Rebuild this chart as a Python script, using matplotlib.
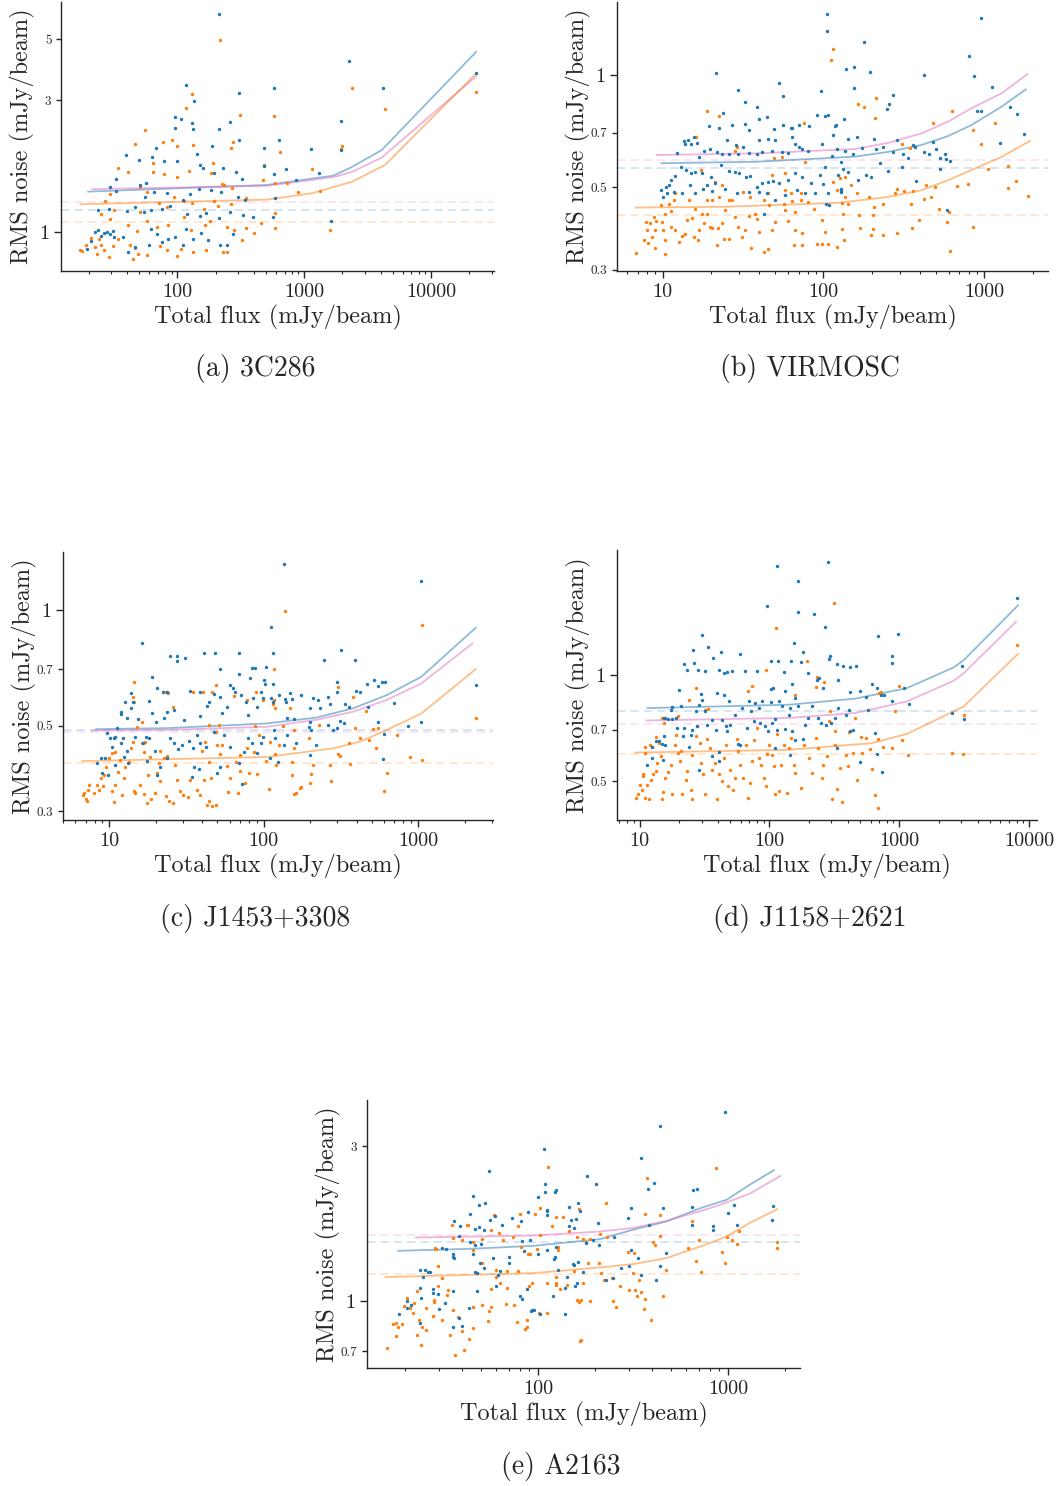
import matplotlib
matplotlib.use("Agg")
import matplotlib.pyplot as plt
from matplotlib.ticker import LogLocator, NullFormatter, NullLocator

plt.rcParams["font.family"] = "cmr10"
plt.rcParams["mathtext.fontset"] = "cm"
plt.rcParams["axes.unicode_minus"] = False
plt.rcParams["axes.formatter.use_mathtext"] = True

BLUE, ORANGE, PINK = "#1f77b4", "#ff7f0e", "#e377c2"
INK = "#262626"

# ---------------- (a) 3C286 ----------------
A_BLUE = [(213, 6.15), (117, 3.40), (574, 3.33), (306, 3.20), (2250, 4.17), (4160, 3.33), (22600, 3.78),
          (95, 2.60), (106, 2.56), (96, 2.39), (131, 2.48), (134, 2.36), (136, 2.97), (213, 2.36), (262, 2.50),
          (189, 2.05), (307, 2.15), (630, 2.15), (478, 2.01), (1940, 2.52), (1940, 1.98), (1130, 1.99),
          (68, 2.01), (63, 1.87), (39.6, 1.90), (49.8, 1.82), (79, 1.80), (100, 1.80), (144, 1.91),
          (150, 1.75), (158, 1.70), (193, 1.63), (230, 1.70), (290, 1.65), (325, 1.56), (478, 1.74),
          (574, 1.62), (717, 1.69), (866, 1.54), (1300, 1.64), (29.6, 1.46), (32.6, 1.55), (33, 1.41),
          (56.7, 1.51), (51, 1.48), (55.4, 1.34), (66, 1.40), (83, 1.38), (110, 1.31), (126, 1.37),
          (148, 1.43), (184, 1.42), (220, 1.40), (298, 1.34), (342, 1.31), (585, 1.33), (23.7, 1.20),
          (28.7, 1.21), (40, 1.19), (46.6, 1.23), (62, 1.20), (75, 1.21), (88, 1.24), (119, 1.165),
          (150, 1.14), (169, 1.175), (213, 1.12), (258, 1.18), (329, 1.15), (392, 1.13), (567, 1.13),
          (1620, 1.10), (19.5, 0.87), (20.7, 0.93), (22.6, 1.0), (24.8, 0.97), (26.3, 0.99), (29.6, 0.986),
          (31, 1.01), (31.6, 0.955), (37.3, 0.96), (40.9, 0.846), (46, 0.88), (62.5, 1.025), (69, 0.98),
          (75.6, 0.92), (84, 0.94), (96, 0.96), (110, 0.895), (117, 1.025), (134, 0.946), (153, 0.995),
          (174, 0.933), (218, 0.90), (246, 0.90), (273, 0.986), (54.2, 1.18), (59.7, 0.895), (23.5, 1.015),
          (27.8, 1.0)]
A_ORANGE = [(218, 4.98), (131, 3.15), (117, 2.82), (313, 2.65), (574, 2.63), (2400, 3.33), (4345, 2.80),
            (22600, 3.22), (56, 2.35), (90, 2.16), (76.5, 2.12), (99, 2.05), (134, 2.06), (274, 2.12),
            (266, 2.01), (640, 1.95), (1980, 2.05), (1940, 2.0), (46, 2.08), (33.8, 1.70), (41, 1.65),
            (64.4, 1.78), (64.8, 1.65), (79, 1.62), (99, 1.58), (124, 1.66), (190, 1.78), (185, 1.64),
            (224, 1.49), (232, 1.48), (270, 1.44), (482, 1.75), (470, 1.54), (590, 1.50), (731, 1.51),
            (1148, 1.69), (898, 1.39), (1336, 1.41), (29.3, 1.37), (27, 1.30), (31.6, 1.20), (51, 1.45),
            (58, 1.39), (71, 1.27), (83, 1.23), (94, 1.34), (112, 1.30), (131, 1.27), (162, 1.21),
            (193, 1.30), (208, 1.24), (266, 1.26), (347, 1.33), (585, 1.17), (24.8, 1.165), (29.6, 1.11),
            (40.9, 1.06), (48.4, 1.01), (51, 1.18), (57.7, 1.10), (69, 1.04), (85, 1.06), (112, 1.13),
            (128, 1.015), (165, 1.06), (181, 1.10), (246, 1.04), (345, 1.035), (399, 0.995), (458, 1.08),
            (585, 1.03), (1600, 1.015), (17.2, 0.858), (17.7, 0.853), (18.9, 0.895), (21, 0.954),
            (22.5, 0.883), (23.2, 0.835), (24.1, 0.94), (24.8, 0.895), (26.3, 0.858), (28.7, 0.81),
            (31, 0.887), (34, 0.94), (42.5, 0.895), (44.3, 0.80), (46.6, 0.877), (49.3, 0.835),
            (57.7, 0.823), (72.6, 0.887), (83, 0.863), (99, 0.816), (106, 0.868), (134, 0.846),
            (169, 0.863), (228, 0.846), (246, 0.846), (323, 0.933), (278, 1.015)]
A_FIT_BLUE = [(19.8, 1.40), (508, 1.48), (1702, 1.60), (2374, 1.72), (4080, 1.98), (22600, 4.49)]
A_FIT_PINK = [(21.3, 1.43), (508, 1.47), (1702, 1.58), (2374, 1.65), (4080, 1.86), (22600, 3.66)]
A_FIT_ORANGE = [(17.2, 1.26), (508, 1.31), (1148, 1.38), (2374, 1.52), (4345, 1.75), (22600, 3.75)]
A_LEVELS = [1.285, 1.205, 1.084]  # pink, blue, orange dashed

# ---------------- (b) VIRMOSC ----------------
B_BLUE = [(106, 1.46), (105, 1.315), (950, 1.42), (180, 1.224), (800, 1.127), (138, 1.036), (155, 1.049),
          (194, 1.021), (21.6, 1.012), (52.9, 0.952), (420, 0.998), (865, 0.994), (29.4, 0.911), (96.3, 0.908),
          (155, 0.921), (56.4, 0.876), (270, 0.884), (1115, 0.927), (32.4, 0.845), (38.5, 0.82), (257, 0.836),
          (248, 0.809), (1450, 0.819), (1600, 0.784), (906, 0.80), (102, 0.778), (107, 0.78), (91, 0.78),
          (44.8, 0.77), (40, 0.76), (23.9, 0.79), (19.5, 0.731), (22.3, 0.72), (26.9, 0.734), (32.4, 0.737),
          (34.5, 0.714), (49.6, 0.717), (56.4, 0.734), (63.3, 0.72), (64, 0.72), (70.7, 0.734), (81.9, 0.73),
          (120, 0.734), (135, 0.76), (115, 0.69), (118, 0.73), (1260, 0.658), (1780, 0.693), (960, 0.80),
          (481, 0.662), (285, 0.669), (360, 0.651), (205, 0.675), (162, 0.68), (143, 0.675), (97.6, 0.653),
          (70.7, 0.642), (63.7, 0.683), (66.7, 0.653), (40, 0.669), (50, 0.669), (45.5, 0.673), (31.8, 0.642),
          (28.6, 0.65), (25.2, 0.669), (21.9, 0.622), (19.8, 0.632), (16.3, 0.658), (15.6, 0.683),
          (14.4, 0.669), (15, 0.653), (13.5, 0.666), (13.7, 0.653), (12.3, 0.618), (16.8, 0.603),
          (18.1, 0.625), (23.4, 0.614), (25.8, 0.614), (29.6, 0.614), (34.5, 0.616), (38.5, 0.614),
          (41.4, 0.622), (47.8, 0.627), (55.3, 0.622), (60.6, 0.618), (73.3, 0.635), (80.7, 0.627),
          (113, 0.606), (121, 0.632), (136, 0.627), (128, 0.586), (133, 0.56), (142, 0.55), (152, 0.614),
          (175, 0.638), (213, 0.635), (236, 0.641), (272, 0.622), (312, 0.614), (337, 0.598), (371, 0.642),
          (420, 0.622), (455, 0.614), (500, 0.635), (530, 0.598), (567, 0.614), (580, 0.594), (610, 0.589),
          (530, 0.56), (253, 0.553), (307, 0.567), (224, 0.579), (185, 0.539), (198, 0.533), (165, 0.522),
          (124, 0.539), (129, 0.487), (129, 0.496), (103, 0.567), (95, 0.539), (100, 0.51), (84, 0.514),
          (73.5, 0.533), (66.7, 0.545), (60.6, 0.522), (53, 0.514), (48.8, 0.52), (45, 0.517), (41.4, 0.514),
          (38.5, 0.50), (35, 0.536), (33, 0.533), (29.9, 0.545), (28.3, 0.55), (25.8, 0.553), (22.9, 0.573),
          (21.2, 0.514), (20, 0.533), (18.9, 0.506), (17.5, 0.545), (16, 0.55), (15.1, 0.547), (14.8, 0.506),
          (14, 0.556), (13, 0.567), (12, 0.536), (11.2, 0.522), (10.9, 0.508), (10.5, 0.50), (9.8, 0.491),
          (10.1, 0.471), (10.7, 0.483), (11.7, 0.486), (13.2, 0.481), (16, 0.483), (17.9, 0.496),
          (20.2, 0.489), (24.5, 0.496), (29, 0.483), (34.2, 0.486), (39.5, 0.486), (44.6, 0.481),
          (50.1, 0.462), (57.9, 0.476), (68.3, 0.493), (76.8, 0.481), (88.7, 0.483), (104, 0.452),
          (109, 0.448), (107, 0.483), (129, 0.485), (42.4, 0.425), (374, 0.52), (590, 0.434)]
B_ORANGE = [(114, 1.174), (111, 1.097), (213, 0.866), (18.9, 0.802), (22.5, 0.776), (163, 0.834), (180, 0.822),
            (209, 0.768), (76, 0.745), (630, 0.80), (480, 0.745), (1170, 0.745), (850, 0.713), (960, 0.653),
            (307, 0.653), (345, 0.638), (1409, 0.571), (1059, 0.56), (680, 0.504), (795, 0.51), (1570, 0.52),
            (1409, 0.498), (1880, 0.473), (850, 0.39), (610, 0.337), (600, 0.43), (590, 0.404), (525, 0.438),
            (494, 0.502), (437, 0.507), (420, 0.464), (470, 0.47), (395, 0.408), (355, 0.389), (350, 0.452),
            (360, 0.489), (315, 0.489), (285, 0.496), (279, 0.481), (285, 0.376), (236, 0.373), (204, 0.386),
            (198, 0.372), (204, 0.42), (168, 0.388), (166, 0.42), (205, 0.443), (235, 0.452), (193, 0.471),
            (162, 0.481), (136, 0.533), (148, 0.506), (126, 0.53), (115, 0.517), (122, 0.493), (136, 0.471),
            (130, 0.454), (143, 0.451), (133, 0.425), (130, 0.386), (135, 0.362), (121, 0.346), (107, 0.353),
            (97.6, 0.353), (91, 0.353), (103, 0.38), (97.6, 0.408), (88, 0.438), (80.7, 0.456), (72.6, 0.483),
            (72.6, 0.462), (66.7, 0.43), (73.3, 0.376), (73.5, 0.35), (66, 0.35), (66.7, 0.383), (60.6, 0.405),
            (57.9, 0.434), (56.5, 0.451), (64, 0.46), (62.5, 0.481), (57.3, 0.545), (47.8, 0.539),
            (49.6, 0.598), (55.5, 0.603), (45.5, 0.481), (42.4, 0.462), (46, 0.448), (50, 0.404),
            (47.8, 0.383), (45.5, 0.342), (42.4, 0.335), (40, 0.38), (38.5, 0.41), (37.6, 0.425), (35, 0.471),
            (34.2, 0.418), (32.4, 0.383), (35.6, 0.344), (31.1, 0.368), (29.4, 0.392), (28.3, 0.416),
            (27, 0.462), (28.3, 0.627), (28.9, 0.642), (31.8, 0.486), (25.7, 0.462), (24.5, 0.434),
            (23.4, 0.40), (25.7, 0.364), (24, 0.364), (21.7, 0.35), (22, 0.389), (20.4, 0.389), (19.8, 0.392),
            (18.9, 0.425), (18.2, 0.40), (20.2, 0.462), (22.3, 0.471), (23.4, 0.506), (21.2, 0.517),
            (18.9, 0.462), (17.5, 0.425), (16.8, 0.383), (16.6, 0.36), (15.6, 0.368), (14.5, 0.462),
            (16, 0.436), (17.2, 0.556), (16.1, 0.683), (15.2, 0.413), (14.2, 0.408), (13.8, 0.375),
            (13.2, 0.371), (12.6, 0.356), (12, 0.383), (11.2, 0.392), (11.3, 0.432), (11.7, 0.462),
            (10.9, 0.45), (10.3, 0.423), (9.9, 0.404), (9.7, 0.448), (10, 0.383), (10.4, 0.36), (10.4, 0.332),
            (9.1, 0.406), (8.9, 0.383), (8.8, 0.415), (8.6, 0.368), (9, 0.344), (8.4, 0.40), (8.0, 0.383),
            (7.9, 0.404), (7.7, 0.36), (8.1, 0.355), (6.8, 0.333), (12, 0.481), (77, 0.584), (57.9, 0.491)]
B_FIT_BLUE = [(9.8, 0.580), (37.6, 0.585), (157, 0.604), (253, 0.622), (407, 0.649), (597, 0.686),
              (832, 0.734), (1281, 0.822), (1815, 0.915)]
B_FIT_PINK = [(9.2, 0.610), (37.6, 0.616), (157, 0.633), (253, 0.658), (407, 0.697), (597, 0.75),
              (832, 0.814), (1281, 0.893), (1860, 1.006)]
B_FIT_ORANGE = [(6.8, 0.441), (23.4, 0.443), (124, 0.454), (253, 0.471), (407, 0.491), (597, 0.522),
                (832, 0.556), (1281, 0.603), (1923, 0.665)]
B_LEVELS = [0.591, 0.564, 0.422]

# ---------------- (c) J1453+3308 ----------------
C_BLUE = [(136, 1.315), (1051, 1.186), (111, 0.902), (16.2, 0.817), (24.8, 0.757), (27.4, 0.757), (27.4, 0.735),
          (30.7, 0.747), (41.2, 0.77), (48.2, 0.77), (68.6, 0.77), (115, 0.774), (245, 0.74), (316, 0.785),
          (390, 0.74), (104, 0.711), (83.6, 0.707), (87.8, 0.705), (51.7, 0.702), (69.3, 0.679), (100, 0.657),
          (115, 0.643), (81, 0.663), (18.9, 0.669), (20.2, 0.627), (22.2, 0.612), (23.6, 0.612), (13.7, 0.609),
          (14.2, 0.577), (13.8, 0.555), (12.7, 0.577), (11.8, 0.544), (11.8, 0.535), (13, 0.523), (15.3, 0.521),
          (18.1, 0.579), (18.9, 0.541), (22.4, 0.525), (23.6, 0.544), (26.3, 0.55), (30.2, 0.518), (33.4, 0.617),
          (38.7, 0.613), (38.4, 0.53), (42.8, 0.563), (43.9, 0.577), (47.3, 0.606), (52.2, 0.594), (53.5, 0.539),
          (57.6, 0.56), (60.6, 0.637), (63.6, 0.627), (65.1, 0.612), (70.9, 0.60), (76.6, 0.577), (79, 0.533),
          (85.7, 0.589), (89.8, 0.56), (96.5, 0.612), (98.7, 0.591), (102, 0.64), (112, 0.589), (115, 0.577),
          (116, 0.488), (119, 0.466), (125, 0.60), (138, 0.586), (140, 0.577), (148, 0.607), (153, 0.586),
          (174, 0.60), (141, 0.523), (157, 0.52), (209, 0.591), (223, 0.582), (200, 0.555), (231, 0.555),
          (195, 0.497), (203, 0.488), (219, 0.446), (198, 0.42), (260, 0.595), (269, 0.571), (262, 0.502),
          (296, 0.65), (299, 0.612), (312, 0.513), (333, 0.508), (337, 0.571), (359, 0.56), (395, 0.615),
          (420, 0.612), (463, 0.64), (474, 0.56), (520, 0.656), (546, 0.635), (582, 0.648), (546, 0.51),
          (612, 0.648), (603, 0.476), (594, 0.41), (700, 0.574), (865, 0.498), (1051, 0.51), (2360, 0.637),
          (8.3, 0.40), (8.75, 0.412), (8.96, 0.377), (9.3, 0.412), (9.66, 0.478), (10.1, 0.464), (10.7, 0.464),
          (10.9, 0.469), (9.8, 0.373), (10.9, 0.396), (10.4, 0.44), (11.2, 0.493), (11.8, 0.45), (12.3, 0.466),
          (12.5, 0.416), (13.2, 0.40), (12.9, 0.43), (14.6, 0.469), (16.4, 0.45), (17.3, 0.469), (18.1, 0.464),
          (20, 0.512), (19.6, 0.43), (20.4, 0.373), (17.5, 0.405), (21.4, 0.392), (23.6, 0.412), (24.8, 0.464),
          (26.1, 0.45), (28, 0.435), (29.5, 0.446), (32.7, 0.457), (34.8, 0.437), (37.1, 0.473), (35.1, 0.392),
          (37.9, 0.386), (34.4, 0.369), (38.7, 0.45), (42.2, 0.441), (47.3, 0.483), (49.6, 0.377),
          (52.2, 0.392), (55, 0.473), (60.6, 0.441), (69, 0.40), (72, 0.354), (74.8, 0.428), (79, 0.464),
          (83.6, 0.45), (89.8, 0.424), (96.5, 0.45), (98.7, 0.468), (110, 0.412), (124, 0.402), (135, 0.446),
          (141, 0.473), (162, 0.45), (198, 0.512), (282, 0.488), (296, 0.493)]
C_ORANGE = [(138, 0.99), (1060, 0.911), (117, 0.702), (14.4, 0.65), (14.2, 0.595), (14.4, 0.577), (23.3, 0.612),
            (24, 0.609), (25.9, 0.558), (34.9, 0.613), (40.3, 0.613), (46.2, 0.612), (49.2, 0.639), (64, 0.598),
            (77.6, 0.583), (88.7, 0.61), (98.7, 0.583), (116, 0.583), (119, 0.556), (114, 0.568), (148, 0.556),
            (195, 0.464), (228, 0.502), (304, 0.631), (376, 0.592), (458, 0.547), (512, 0.49), (546, 0.494),
            (390, 0.493), (420, 0.466), (480, 0.46), (530, 0.437), (359, 0.45), (364, 0.397), (312, 0.418),
            (304, 0.422), (269, 0.396), (273, 0.36), (209, 0.395), (203, 0.375), (198, 0.356), (174, 0.348),
            (172, 0.345), (157, 0.333), (161, 0.335), (153, 0.373), (152, 0.402), (158, 0.437), (156, 0.488),
            (133, 0.50), (126, 0.446), (110, 0.453), (118, 0.422), (120, 0.396), (108, 0.343), (104, 0.406),
            (92.4, 0.474), (87.8, 0.50), (86.5, 0.428), (89.8, 0.375), (80.5, 0.377), (77.6, 0.438),
            (75.6, 0.355), (70.3, 0.382), (69.6, 0.42), (66.3, 0.404), (68.3, 0.335), (59, 0.337),
            (60.6, 0.366), (57.6, 0.394), (54, 0.445), (52.2, 0.422), (49.6, 0.446), (51.4, 0.502),
            (49.2, 0.483), (43.9, 0.502), (41.7, 0.455), (39.6, 0.43), (43.9, 0.404), (45.4, 0.366),
            (41.2, 0.362), (38.7, 0.331), (43.9, 0.319), (46.5, 0.309), (49.2, 0.312), (42.8, 0.311),
            (37.1, 0.341), (33.4, 0.362), (32.1, 0.326), (29.9, 0.33), (28.8, 0.339), (27.4, 0.362),
            (26.6, 0.396), (23.6, 0.418), (22.4, 0.412), (21.4, 0.43), (20.8, 0.40), (20.4, 0.377),
            (21.4, 0.36), (23.3, 0.328), (25.8, 0.315), (24.2, 0.32), (19.6, 0.334), (18.6, 0.324),
            (17.5, 0.315), (16.7, 0.332), (15.8, 0.351), (14.7, 0.334), (14.4, 0.338), (17.8, 0.373),
            (18.4, 0.416), (16.7, 0.428), (16.3, 0.45), (15.1, 0.497), (16.2, 0.512), (16.9, 0.455),
            (14.2, 0.455), (13.7, 0.437), (13.3, 0.404), (12.7, 0.392), (12.4, 0.366), (12.1, 0.331),
            (10.7, 0.318), (10.4, 0.338), (10.9, 0.351), (11.4, 0.38), (11.7, 0.408), (10.9, 0.428),
            (10.4, 0.424), (9.9, 0.412), (9.55, 0.39), (9.2, 0.373), (9.1, 0.35), (8.75, 0.366), (8.5, 0.34),
            (8.3, 0.351), (7.9, 0.334), (7.4, 0.351), (7.3, 0.341), (7.17, 0.319), (6.8, 0.334), (6.75, 0.33),
            (7.0, 0.324), (624, 0.377), (603, 0.338), (725, 0.473), (883, 0.414), (1060, 0.408), (2360, 0.523)]
C_FIT_BLUE = [(8.2, 0.49), (23.6, 0.493), (104, 0.507), (219, 0.525), (380, 0.555), (624, 0.60),
              (1050, 0.670), (2360, 0.897)]
C_FIT_PINK = [(7.7, 0.486), (23.6, 0.488), (104, 0.497), (219, 0.518), (380, 0.544), (624, 0.583),
              (1050, 0.644), (2245, 0.817)]
C_FIT_ORANGE = [(6.7, 0.405), (104, 0.415), (282, 0.437), (420, 0.455), (594, 0.483), (1050, 0.538),
                (2360, 0.701)]
C_LEVELS = [0.481, 0.488, 0.400]

# ---------------- (d) J1158+2621 ----------------
D_BLUE = [(280, 2.087), (114, 2.03), (167, 1.845), (8040, 1.645), (96, 1.565), (167, 1.508), (220, 1.483),
          (266, 1.36), (154, 1.228), (30.3, 1.297), (33.5, 1.197), (25.8, 1.171), (42.2, 1.163), (59.6, 1.143),
          (22, 1.072), (26.3, 1.079), (23.3, 1.033), (28, 1.033), (36.7, 1.114), (32, 1.022), (40.6, 1.033),
          (44.5, 1.011), (47.2, 1.015), (51.6, 1.022), (64.3, 1.026), (80.2, 1.022), (102, 1.095), (116, 1.09),
          (147, 1.097), (129, 1.017), (102, 0.913), (106, 0.917), (132, 0.898), (149, 0.943), (180, 1.163),
          (176, 1.085), (199, 1.011), (233, 0.968), (240, 0.978), (260, 0.917), (286, 1.109), (294, 1.126),
          (333, 1.074), (368, 1.06), (415, 1.05), (467, 1.06), (337, 0.968), (420, 0.894), (494, 0.898),
          (555, 0.863), (610, 0.941), (688, 1.29), (677, 0.917), (880, 1.079), (880, 1.13), (980, 1.3),
          (880, 0.841), (1090, 0.92), (1180, 0.827), (3040, 1.06), (3125, 0.751), (2540, 0.78), (718, 0.874),
          (760, 0.874), (570, 0.797), (645, 0.685), (668, 0.597), (730, 0.530), (494, 0.567), (443, 0.70),
          (415, 0.692), (385, 0.771), (408, 0.797), (337, 0.805), (322, 0.755), (333, 0.621), (298, 0.731),
          (272, 0.723), (248, 0.731), (236, 0.755), (212, 0.814), (198, 0.755), (186, 0.723), (180, 0.658),
          (158, 0.859), (165, 0.814), (144, 0.805), (141, 0.771), (132, 0.705), (149, 0.692), (156, 0.655),
          (144, 0.595), (125, 0.818), (118, 0.841), (111, 0.751), (114, 0.70), (110, 0.62), (105, 0.731),
          (97, 0.692), (93, 0.715), (102, 0.838), (88, 0.841), (82.8, 0.805), (85.2, 0.731), (78, 0.833),
          (75.8, 0.739), (69.3, 0.841), (71.5, 0.789), (67.3, 0.707), (61.6, 0.805), (59.6, 0.635),
          (57.2, 0.638), (54.7, 0.768), (48.6, 0.841), (50, 0.723), (45.9, 0.715), (47.2, 0.695),
          (43.2, 0.746), (44.5, 0.878), (39.5, 0.887), (40.6, 0.607), (40.6, 0.57), (36.2, 0.589),
          (38.4, 0.70), (36.2, 0.746), (33.2, 0.723), (32, 0.789), (30.3, 0.85), (29.7, 0.882), (28.6, 0.823),
          (27, 0.789), (27.7, 0.715), (28.6, 0.538), (25.4, 0.70), (24.7, 0.677), (24.2, 0.624), (22, 0.707),
          (21.6, 0.673), (21, 0.814), (20.1, 0.907), (18.9, 0.755), (19.4, 0.707), (17.8, 0.751),
          (17.8, 0.809), (17.3, 0.797), (16.6, 0.751), (15.8, 0.755), (15.4, 0.755), (15.8, 0.635),
          (15.4, 0.67), (14.9, 0.639), (15.1, 0.576), (14.1, 0.649), (13.3, 0.649), (12.5, 0.582),
          (11.5, 0.555), (12.5, 0.625)]
D_ORANGE = [(316, 1.592), (112, 1.354), (196, 1.09), (94.5, 1.033), (232, 0.983), (8040, 1.215), (990, 0.927),
            (718, 0.894), (265, 0.951), (226, 0.921), (158, 0.878), (68.6, 0.901), (73.2, 0.927), (27.3, 0.917),
            (23.9, 0.847), (33.6, 0.802), (31.8, 0.797), (17.8, 0.809), (19.8, 0.766), (14.9, 0.755),
            (15.4, 0.731), (13.3, 0.666), (14.1, 0.642), (12.5, 0.624), (12, 0.635), (11.1, 0.625),
            (11, 0.601), (10.7, 0.523), (10.7, 0.517), (10, 0.489), (10.5, 0.474), (9.8, 0.462), (9.4, 0.449),
            (11, 0.449), (11.8, 0.446), (11.5, 0.489), (12.2, 0.506), (12.6, 0.523), (13.3, 0.534),
            (13.7, 0.564), (14.5, 0.589), (14.9, 0.446), (15.1, 0.468), (15.8, 0.512), (16.6, 0.532),
            (17.3, 0.557), (17.8, 0.462), (18.7, 0.635), (18.9, 0.677), (19.8, 0.601), (20.3, 0.57),
            (21, 0.608), (21.3, 0.462), (22.6, 0.506), (23.3, 0.534), (24.7, 0.474), (25.4, 0.446),
            (25.4, 0.595), (27, 0.67), (27.7, 0.715), (29, 0.642), (29.9, 0.564), (31, 0.523), (32, 0.462),
            (33.2, 0.66), (34.7, 0.621), (36.2, 0.54), (37.9, 0.564), (39.5, 0.446), (40.6, 0.523), (43.2, 0.50),
            (44.5, 0.583), (45.9, 0.635), (47.7, 0.484), (50, 0.54), (52.8, 0.474), (54.7, 0.512), (56, 0.66),
            (57.2, 0.608), (59.6, 0.557), (63, 0.512), (66.2, 0.635), (68.6, 0.449), (71, 0.495), (73.2, 0.57),
            (75.8, 0.655), (80.2, 0.707), (82.8, 0.582), (86.6, 0.557), (90.5, 0.512), (94.5, 0.484),
            (96, 0.598), (100, 0.635), (105, 0.595), (108, 0.551), (111, 0.461), (114, 0.68), (118, 0.469),
            (122, 0.557), (129, 0.635), (137, 0.463), (141, 0.621), (147, 0.663), (154, 0.557), (158, 0.528),
            (176, 0.479), (183, 0.635), (201, 0.582), (212, 0.528), (226, 0.663), (236, 0.621), (254, 0.512),
            (260, 0.557), (278, 0.589), (294, 0.788), (286, 0.739), (305, 0.446), (322, 0.635), (330, 0.477),
            (350, 0.546), (362, 0.436), (385, 0.595), (405, 0.552), (443, 0.601), (459, 0.755), (472, 0.506),
            (506, 0.668), (516, 0.601), (555, 0.663), (592, 0.618), (610, 0.541), (645, 0.459), (685, 0.42),
            (688, 0.659), (745, 0.624), (920, 0.788), (880, 0.621), (1049, 0.653), (1155, 0.595),
            (2540, 0.601), (3125, 0.771), (3080, 0.598), (700, 0.887), (408, 0.689), (322, 0.695)]
D_FIT_BLUE = [(11.5, 0.805), (141, 0.823), (457, 0.856), (1145, 0.917), (2620, 1.049), (3130, 1.10),
              (8190, 1.57)]
D_FIT_PINK = [(11.3, 0.743), (141, 0.755), (457, 0.780), (1145, 0.841), (2620, 0.962), (3130, 1.011),
              (7890, 1.41)]
D_FIT_ORANGE = [(9.3, 0.603), (141, 0.614), (613, 0.641), (1145, 0.681), (3130, 0.814), (8190, 1.146)]
D_LEVELS = [0.727, 0.788, 0.599]

# ---------------- (e) A2163 ----------------
E_BLUE = [(970, 3.83), (439, 3.46), (107, 2.93), (350, 2.75), (55.3, 2.52), (181, 2.43), (203, 2.29),
          (109, 2.29), (409, 2.31), (380, 2.21), (109, 2.16), (123, 2.17), (124, 2.20), (100, 2.09),
          (45.7, 2.11), (52.4, 2.0), (48.7, 1.98), (163, 2.01), (145, 1.95), (310, 1.94), (455, 1.94),
          (657, 2.19), (684, 2.21), (644, 1.95), (995, 1.87), (1070, 1.98), (1111, 1.72), (838, 1.70),
          (838, 1.65), (644, 1.72), (1700, 1.78), (1730, 1.96), (385, 1.72), (297, 1.80), (207, 1.74),
          (166, 1.89), (158, 1.79), (154, 1.68), (149, 1.78), (146, 1.70), (112, 1.89), (111, 1.84),
          (111, 1.91), (88.3, 1.88), (81, 1.76), (73, 1.80), (65, 1.72), (59.2, 1.83), (55.7, 1.78),
          (52.2, 1.66), (48.8, 1.69), (46.6, 1.67), (44.1, 1.86), (38.3, 1.59), (36.2, 1.77), (36.2, 1.36),
          (35.8, 1.40), (35.8, 1.37), (32.7, 1.45), (31.2, 1.46), (38.8, 1.70), (43.8, 1.52), (50.3, 1.50),
          (46.6, 1.49), (45.7, 1.40), (49.5, 1.31), (52.2, 1.26), (46.6, 1.23), (47.7, 1.22), (61.8, 1.20),
          (63.1, 1.24), (70, 1.37), (70.6, 1.31), (84, 1.43), (82.8, 1.53), (90.6, 1.545), (100, 1.40),
          (112, 1.44), (124, 1.47), (123, 1.37), (122, 1.35), (128, 1.25), (142, 1.19), (153, 1.30),
          (163, 1.32), (155, 1.29), (173, 1.225), (180, 1.51), (196, 1.545), (209, 1.49), (227, 1.16),
          (249, 1.18), (252, 1.58), (275, 1.26), (303, 1.28), (310, 1.44), (337, 1.36), (347, 1.20),
          (416, 1.16), (438, 1.28), (470, 1.41), (160, 1.14), (138, 1.10), (157, 1.11), (120, 1.04),
          (103, 0.91), (92.7, 0.94), (87.2, 1.09), (80.4, 1.033), (82, 1.015), (95.4, 0.94), (92, 0.935),
          (139, 0.914), (59.9, 1.115), (58.2, 1.36), (48, 1.07), (43.6, 0.95), (39.9, 0.84), (38.3, 0.885),
          (35.8, 1.07), (35.8, 0.83), (32.4, 0.986), (30.3, 0.945), (29.7, 1.05), (27.9, 1.09), (28.1, 1.06),
          (27, 1.23), (26.3, 1.23), (25.4, 1.25), (24.7, 1.185), (24.1, 1.02), (24, 0.855), (23.9, 1.10),
          (23.9, 1.25), (21.4, 0.97), (20.5, 1.0), (20.4, 0.95), (18.6, 0.91)]
E_ORANGE = [(113, 2.59), (870, 2.56), (373, 2.40), (366, 1.86), (439, 1.84), (228, 2.01), (103, 1.93),
            (96.8, 1.86), (80.4, 1.86), (59, 1.84), (165, 1.92), (124, 1.82), (135, 1.81), (118, 1.70),
            (103, 1.60), (146, 1.64), (188, 1.55), (212, 1.61), (230, 1.58), (180, 1.525), (173, 1.55),
            (160, 1.58), (127, 1.47), (128, 1.44), (90.6, 1.40), (88.9, 1.40), (81, 1.47), (74.2, 1.58),
            (79, 1.70), (98.5, 1.45), (65.7, 1.54), (62.5, 1.62), (56.6, 1.66), (51, 1.55), (45.7, 1.44),
            (42.1, 1.72), (43, 1.71), (45.7, 1.525), (39.7, 1.54), (35.1, 1.72), (35.8, 1.56), (28.7, 1.46),
            (29.2, 1.45), (50.5, 1.31), (60.5, 1.248), (60.5, 1.19), (68.4, 1.235), (79, 1.235), (93, 1.14),
            (90, 1.11), (111, 1.136), (125, 1.12), (125, 1.185), (143, 1.12), (172, 1.136), (155, 1.235),
            (184, 1.31), (209, 1.31), (216, 1.22), (222, 1.16), (244, 1.18), (270, 1.11), (301, 1.083),
            (325, 1.083), (350, 1.065), (332, 1.04), (366, 1.015), (455, 1.033), (360, 0.945), (395, 0.877),
            (342, 1.157), (318, 1.22), (299, 1.42), (322, 1.41), (414, 1.49), (470, 1.248), (404, 1.525),
            (437, 1.59), (249, 1.0), (256, 0.96), (189, 1.0), (168, 1.01), (165, 0.995), (161, 1.005),
            (168, 0.757), (166, 0.752), (131, 1.09), (125, 1.14), (111, 0.92), (101, 0.918), (87.2, 0.875),
            (87.2, 0.83), (86, 0.82), (77.4, 0.86), (75, 0.975), (67.8, 0.98), (69, 1.096), (63.1, 1.136),
            (56.3, 1.09), (56.6, 0.96), (55.3, 0.935), (54.6, 0.866), (50.5, 0.97), (45.3, 0.96),
            (45.3, 0.826), (43.2, 0.764), (40.8, 0.709), (40, 0.81), (37.8, 0.893), (36.4, 0.68), (35.8, 0.94),
            (34.5, 0.785), (33.7, 1.083), (33.1, 1.041), (31.4, 1.18), (31.2, 0.877), (29.7, 1.11),
            (28.5, 0.99), (29.7, 1.284), (28.3, 1.01), (27.9, 0.897), (25.9, 0.95), (25.9, 0.816),
            (24.4, 0.83), (24.2, 0.734), (23.8, 0.877), (23.2, 0.788), (23, 1.07), (22.3, 0.986),
            (22.1, 0.918), (21.1, 0.95), (20.4, 1.02), (19.7, 0.968), (19.3, 0.85), (18.4, 0.83), (18, 0.856),
            (18, 0.779), (17.3, 0.848), (16, 0.717), (618, 1.455), (644, 1.77), (675, 1.33), (722, 1.23),
            (700, 1.545), (928, 1.42), (960, 1.31), (985, 1.58), (1045, 1.545), (1120, 1.50), (1145, 1.64),
            (1820, 1.455), (1820, 1.525)]
E_FIT_BLUE = [(18.4, 1.428), (42.1, 1.447), (94.5, 1.479), (212, 1.551), (318, 1.66), (475, 1.758),
              (711, 1.93), (984, 2.05), (1300, 2.28), (1746, 2.53)]
E_FIT_PINK = [(22.8, 1.569), (94.5, 1.591), (212, 1.637), (318, 1.68), (475, 1.766), (711, 1.89),
              (908, 1.977), (1300, 2.14), (1892, 2.43)]
E_FIT_ORANGE = [(15.8, 1.185), (94.5, 1.219), (212, 1.269), (318, 1.30), (475, 1.356), (711, 1.47),
                (984, 1.58), (1300, 1.74), (1820, 1.918)]
E_LEVELS = [1.596, 1.518, 1.21]


def xy(pts):
    return [p[0] for p in pts], [p[1] for p in pts]


def panel(fig, rect, blue, orange, fits, levels, xlim, ylim, xticks, yticks, caption, cap_xy):
    ax = fig.add_axes(rect)
    ax.set_xscale("log")
    ax.set_yscale("log")
    for lvl, c in zip(levels, [PINK, BLUE, ORANGE]):
        ax.axhline(lvl, color=c, alpha=0.22, lw=1.2, ls=(0, (5, 3)), zorder=1)
    for pts, c, a in zip(fits, [BLUE, PINK, ORANGE], [0.5, 0.55, 0.5]):
        fx, fy = xy(pts)
        ax.plot(fx, fy, color=c, alpha=a, lw=1.3, zorder=2)
    bx, by = xy(blue)
    ox, oy = xy(orange)
    ax.scatter(ox, oy, s=6, color=ORANGE, lw=0, zorder=3)
    ax.scatter(bx, by, s=6, color=BLUE, lw=0, zorder=3)
    ax.set_xlim(*xlim)
    ax.set_ylim(*ylim)

    for side in ("top", "right"):
        ax.spines[side].set_visible(False)
    for side in ("left", "bottom"):
        ax.spines[side].set_color(INK)
        ax.spines[side].set_linewidth(1.0)

    # x: decades labelled, log minor ticks unlabelled
    ax.set_xticks(xticks, [str(t) for t in xticks])
    ax.xaxis.set_minor_locator(LogLocator(base=10, subs=range(2, 10), numticks=20))
    ax.xaxis.set_minor_formatter(NullFormatter())
    # y: only a few hand-picked ticks, decades big, the rest small
    major = [t for t in yticks if t == 1]
    minor = [t for t in yticks if t != 1]
    ax.yaxis.set_major_locator(NullLocator())
    ax.set_yticks(major, [str(t) for t in major])
    ax.set_yticks(minor, [("%g" % t) for t in minor], minor=True)
    ax.tick_params(which="major", length=5, width=1.0, color=INK, labelcolor=INK, labelsize=14.5)
    ax.tick_params(axis="x", which="minor", length=2.5, width=0.8, color=INK)
    ax.tick_params(axis="y", which="minor", length=3.5, width=1.0, color=INK, labelcolor=INK, labelsize=9.5)

    ax.set_xlabel("Total flux (mJy/beam)", fontsize=17.5, color=INK)
    ax.set_ylabel("RMS noise (mJy/beam)", fontsize=17.5, color=INK)
    ax.xaxis.set_label_coords(0.5, -0.125)
    ax.yaxis.set_label_coords(-26 / (rect[2] * 1062), 0.5)
    fig.text(cap_xy[0] / 1062, 1 - cap_xy[1] / 1486, caption, ha="center", va="baseline",
             fontsize=20, color=INK)
    return ax


fig = plt.figure(figsize=(10.62, 14.86), dpi=100)

panel(fig, [61 / 1062, 1 - 271 / 1486, 433 / 1062, 269 / 1486], A_BLUE, A_ORANGE,
      [A_FIT_BLUE, A_FIT_PINK, A_FIT_ORANGE], A_LEVELS, (12.1, 31300), (0.722, 6.81),
      [100, 1000, 10000], [1, 3, 5], "(a) 3C286", (255.5, 376))
panel(fig, [617 / 1062, 1 - 271 / 1486, 431 / 1062, 269 / 1486], B_BLUE, B_ORANGE,
      [B_FIT_BLUE, B_FIT_PINK, B_FIT_ORANGE], B_LEVELS, (5.2, 2495), (0.298, 1.57),
      [10, 100, 1000], [0.3, 0.5, 0.7, 1], "(b) VIRMOSC", (810, 376))
panel(fig, [63 / 1062, 1 - 820 / 1486, 430 / 1062, 268 / 1486], C_BLUE, C_ORANGE,
      [C_FIT_BLUE, C_FIT_PINK, C_FIT_ORANGE], C_LEVELS, (5.0, 3055), (0.285, 1.41),
      [10, 100, 1000], [0.3, 0.5, 0.7, 1], "(c) J1453+3308", (255.5, 926))
panel(fig, [617 / 1062, 1 - 820 / 1486, 420 / 1062, 270 / 1486], D_BLUE, D_ORANGE,
      [D_FIT_BLUE, D_FIT_PINK, D_FIT_ORANGE], D_LEVELS, (6.7, 11460), (0.389, 2.25),
      [10, 100, 1000, 10000], [0.5, 0.7, 1], "(d) J1158+2621", (809.5, 926))
panel(fig, [367 / 1062, 1 - 1368 / 1486, 433 / 1062, 268 / 1486], E_BLUE, E_ORANGE,
      [E_FIT_BLUE, E_FIT_PINK, E_FIT_ORANGE], E_LEVELS, (12.6, 2394), (0.622, 4.16),
      [100, 1000], [0.7, 1, 3], "(e) A2163", (560.5, 1474))

fig.savefig("out.png", dpi=100)
